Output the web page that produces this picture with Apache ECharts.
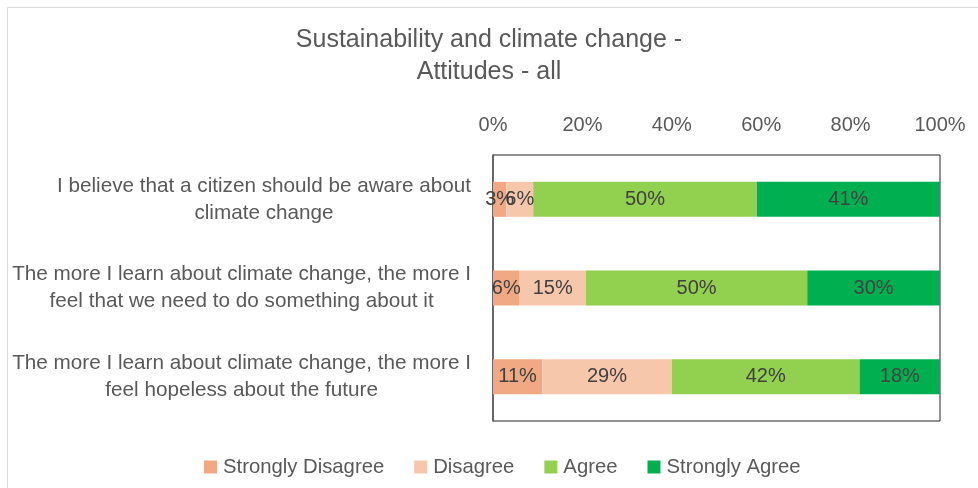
<!DOCTYPE html>
<html>
<head>
<meta charset="utf-8">
<title>Sustainability and climate change - Attitudes - all</title>
<script src="https://cdn.jsdelivr.net/npm/echarts@6/dist/echarts.min.js"></script>
<style>
  html, body { margin: 0; padding: 0; background: #ffffff; }
  #chart { width: 978px; height: 488px; }
</style>
</head>
<body>
<div id="chart"></div>
<script>
// Survey statements (top to bottom)
const statements = [
  'I believe that a citizen should be aware about\nclimate change',
  'The more I learn about climate change, the more I\nfeel that we need to do something about it',
  'The more I learn about climate change, the more I\nfeel hopeless about the future'
];

// Response shares in percent, one array per answer
const stronglyDisagree = [3, 6, 11];
const disagree = [6, 15, 29];
const agree = [50, 50, 42];
const stronglyAgree = [41, 30, 18];

const seriesNames = ['Strongly Disagree', 'Disagree', 'Agree', 'Strongly Agree'];
const seriesColors = ['#F1A983', '#F7C7AC', '#92D050', '#00B050'];
const tickValues = [0, 20, 40, 60, 80, 100];

const FONT = '"Liberation Sans", Arial, sans-serif';
const allValues = [stronglyDisagree, disagree, agree, stronglyAgree];

// Each row is stacked to 100% of its own total, as in a 100% stacked bar
const rowTotals = statements.map((_, i) =>
  allValues.reduce((s, arr) => s + arr[i], 0));

const chart = echarts.init(document.getElementById('chart'), null, { renderer: 'canvas' });

const series = allValues.map((arr, k) => ({
  name: seriesNames[k],
  type: 'bar',
  stack: 'total',
  barWidth: 35,
  itemStyle: { color: seriesColors[k] },
  label: {
    show: true,
    position: 'inside',
    color: '#404040',
    fontSize: 20,
    fontFamily: FONT,
    formatter: p => arr[p.dataIndex] + '%'
  },
  emphasis: { disabled: true },
  data: arr.map((v, i) => v / rowTotals[i] * 100)
}));

chart.setOption({
  animation: false,
  backgroundColor: '#ffffff',
  graphic: [{
    type: 'rect',
    shape: { x: 7.5, y: 7.5, width: 1000, height: 500 },
    style: { fill: 'none', stroke: '#d9d9d9', lineWidth: 1 },
    silent: true
  }],
  title: {
    text: 'Sustainability and climate change -\nAttitudes - all',
    left: 'center',
    top: 19,
    textStyle: {
      fontFamily: FONT,
      fontSize: 25,
      fontWeight: 'normal',
      color: '#595959',
      lineHeight: 32
    }
  },
  legend: {
    data: seriesNames,
    bottom: 6,
    left: 199,
    icon: 'rect',
    itemWidth: 13,
    itemHeight: 13,
    itemGap: 30,
    textStyle: { fontFamily: FONT, fontSize: 20.3, color: '#595959', padding: [0, 0, 0, 1] }
  },
  grid: {
    left: 493,
    right: 38,
    top: 155,
    bottom: 67,
    show: true,
    borderColor: '#262626',
    borderWidth: 1,
    containLabel: false
  },
  xAxis: {
    type: 'value',
    position: 'top',
    min: 0,
    max: 100,
    interval: 20,
    axisLine: { show: false },
    axisTick: { show: false },
    splitLine: { show: false },
    axisLabel: {
      margin: 20,
      fontFamily: FONT,
      fontSize: 20,
      color: '#595959',
      customValues: tickValues,
      formatter: v => v + '%'
    }
  },
  yAxis: {
    type: 'category',
    inverse: true,
    data: statements,
    axisLine: { show: true, lineStyle: { color: '#595959', width: 1.5 } },
    axisTick: { show: false },
    axisLabel: {
      margin: 22,
      align: 'right',
      formatter: v => v.split('\n').map(line => '{c|' + line + '}').join('\n'),
      rich: {
        c: {
          align: 'center',
          fontFamily: FONT,
          fontSize: 20.7,
          color: '#595959',
          lineHeight: 27
        }
      }
    }
  },
  series: series
});
</script>
</body>
</html>
